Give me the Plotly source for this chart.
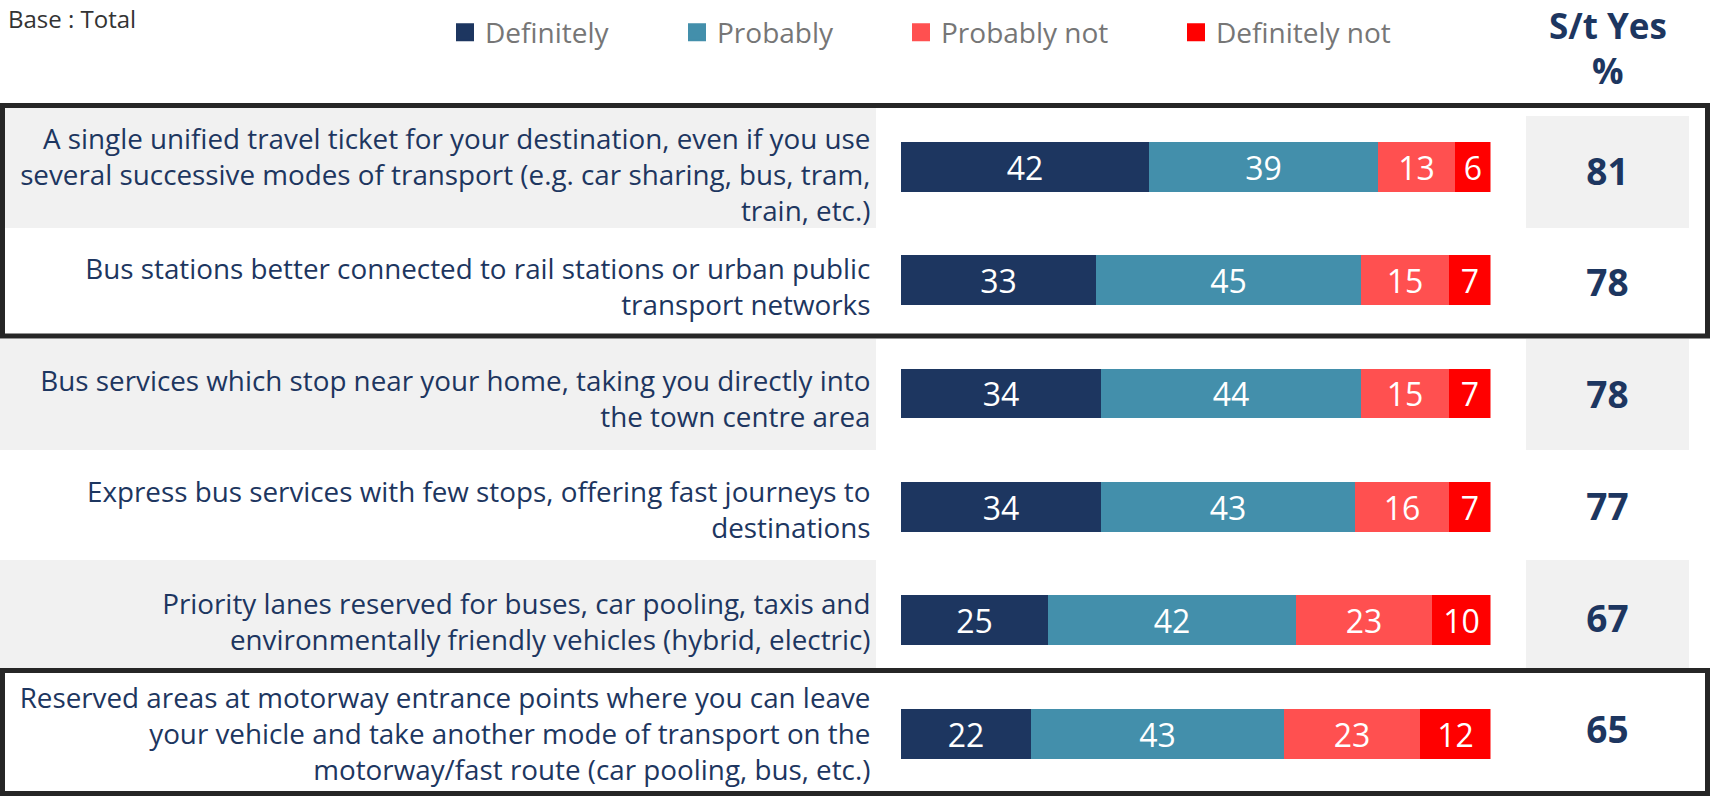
import plotly.graph_objects as go

W, H = 1710, 796

# ---------------- data ----------------
row_labels = [
    "A single unified travel ticket for your destination, even if you use<br>several successive modes of transport (e.g. car sharing, bus, tram,<br>train, etc.)",
    "Bus stations better connected to rail stations or urban public<br>transport networks",
    "Bus services which stop near your home, taking you directly into<br>the town centre area",
    "Express bus services with few stops, offering fast journeys to<br>destinations",
    "Priority lanes reserved for buses, car pooling, taxis and<br>environmentally friendly vehicles (hybrid, electric)",
    "Reserved areas at motorway entrance points where you can leave<br>your vehicle and take another mode of transport on the<br>motorway/fast route (car pooling, bus, etc.)",
]
series_names = ["Definitely", "Probably", "Probably not", "Definitely not"]
definitely = [42, 33, 34, 34, 25, 22]
probably = [39, 45, 44, 43, 42, 43]
probably_not = [13, 15, 15, 16, 23, 23]
definitely_not = [6, 7, 7, 7, 10, 12]
st_yes = [81, 78, 78, 77, 67, 65]
header_lines = ["S/t Yes", "%"]
base_note = "Base : Total"

# ---------------- styles ----------------
colors = ["#1d3660", "#438fab", "#ff5050", "#ff0000"]
navy = "#1d3660"
FONT = "'Open Sans', Lato, sans-serif"


def px(x):
    return x / W


def py(y):
    return 1 - y / H


fig = go.Figure()

for name, vals, col in zip(series_names, [definitely, probably, probably_not, definitely_not], colors):
    fig.add_trace(go.Bar(
        name=name, y=row_labels, x=vals, orientation="h",
        marker=dict(color=col, line=dict(width=0)),
        width=0.44,
        text=vals, texttemplate="%{x}", textposition="inside",
        insidetextanchor="middle", constraintext="none",
        textfont=dict(family=FONT, size=32, color="white"),
        showlegend=False, hoverinfo="skip",
    ))

# S/t Yes column; its y axis also carries the row labels
fig.add_trace(go.Scatter(
    x=[0.5] * len(st_yes), y=row_labels, text=[str(v) for v in st_yes],
    mode="text", xaxis="x2", yaxis="y2",
    textfont=dict(family=FONT, size=37, color=navy, weight="bold"),
    showlegend=False, hoverinfo="skip",
))

# legend proxies, one legend each so positions match the reference
legend_sq_left = [456, 688, 912, 1187]
legend_keys = ["legend", "legend2", "legend3", "legend4"]
for name, col, lk in zip(series_names, colors, legend_keys):
    fig.add_trace(go.Scatter(
        x=[None], y=[None], mode="markers", name=name,
        marker=dict(symbol="square", size=16, color=col, line=dict(width=2, color=col)),
        showlegend=True, legend=lk, xaxis="x", yaxis="y",
    ))

legend_layouts = {}
for lk, sx in zip(legend_keys, legend_sq_left):
    legend_layouts[lk] = dict(
        x=px(sx - 11), y=py(32.5), xanchor="left", yanchor="middle",
        orientation="h", bgcolor="rgba(0,0,0,0)", borderwidth=0,
        font=dict(family=FONT, size=28, color="#767676"),
        itemclick=False, itemdoubleclick=False,
    )

shapes = []
# grey bands (rows 1, 3, 5): label column and S/t column
bands_label = [(0, 876, 108, 228), (0, 876, 339, 450), (0, 876, 560, 668)]
bands_st = [(1526, 1689, 116, 228), (1526, 1689, 339, 450), (1526, 1689, 560, 668)]
for x0, x1, y0, y1 in bands_label + bands_st:
    shapes.append(dict(type="rect", xref="paper", yref="paper",
                       x0=px(x0), x1=px(x1), y0=py(y1), y1=py(y0),
                       fillcolor="#f1f1f1", line=dict(width=0), layer="below"))
# black frames
for y0, y1 in [(105.5, 336), (670.5, 793.5)]:
    shapes.append(dict(type="rect", xref="paper", yref="paper",
                       x0=px(2.5), x1=px(1707.5), y0=py(y1), y1=py(y0),
                       fillcolor="rgba(0,0,0,0)", line=dict(width=5, color="#262626"),
                       layer="above"))

annotations = [
    dict(text=header_lines[0], x=px(1607.5), y=1, xref="paper", yref="paper",
         showarrow=False, xanchor="center", yanchor="top",
         font=dict(family=FONT, size=35, color=navy, weight="bold")),
    dict(text=header_lines[1], x=px(1607.5), y=py(71), xref="paper", yref="paper",
         showarrow=False, xanchor="center", yanchor="middle",
         font=dict(family=FONT, size=35, color=navy, weight="bold")),
    dict(text=base_note, x=px(6), y=1, xref="paper", yref="paper",
         showarrow=False, xanchor="left", yanchor="top",
         font=dict(family=FONT, size=24, color="#333333")),
]

row_px = 113.4
y_top = 167 - row_px / 2
y_bot = 734 + row_px / 2
lab_px = 111.7
lab_top = 175.5 - lab_px / 2
lab_bot = 734.0 + lab_px / 2

fig.update_layout(
    width=W, height=H, margin=dict(l=0, r=0, t=0, b=0),
    paper_bgcolor="white", plot_bgcolor="rgba(0,0,0,0)",
    barmode="stack", bargap=0,
    template="none",
    xaxis=dict(domain=[px(901), px(1490.5)], range=[0, 100], visible=False, fixedrange=True),
    xaxis2=dict(domain=[px(1526), px(1689)], range=[0, 1], visible=False,
                anchor="free", position=0, fixedrange=True),
    yaxis=dict(domain=[py(y_bot), py(y_top)], range=[len(row_labels) - 0.5, -0.5],
               type="category", categoryorder="array", categoryarray=row_labels,
               showgrid=False, zeroline=False, showline=False, showticklabels=False,
               ticks="", automargin=False, fixedrange=True),
    yaxis2=dict(domain=[py(lab_bot), py(lab_top)], range=[len(row_labels) - 0.5, -0.5],
                type="category", categoryorder="array", categoryarray=row_labels,
                anchor="free", position=px(901),
                showgrid=False, zeroline=False, showline=False,
                ticks="outside", ticklen=25, tickcolor="rgba(0,0,0,0)",
                tickfont=dict(family=FONT, size=27.8, color=navy),
                automargin=False, fixedrange=True),
    shapes=shapes, annotations=annotations,
    **legend_layouts,
)

fig.write_html("out.html", config={"displayModeBar": False},
               post_script="document.body.style.margin='0';")
